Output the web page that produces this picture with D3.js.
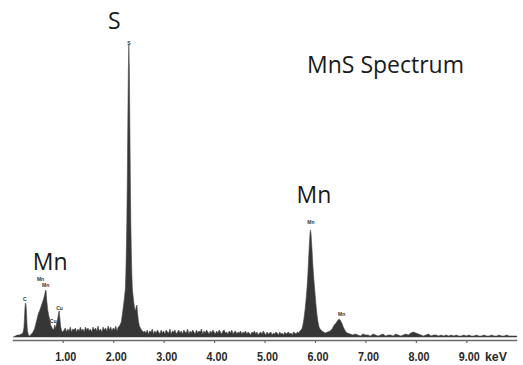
<!DOCTYPE html>
<html>
<head>
<meta charset="utf-8">
<script src="https://cdn.jsdelivr.net/npm/d3@7"></script>
<style>
  html, body { margin: 0; padding: 0; background: #ffffff; }
  svg { display: block; }
</style>
</head>
<body>
<svg id="chart" width="523" height="365"></svg>
<script>
// ---- Data ----
const energyKeV = [
  0.02, 0.06, 0.10, 0.14, 0.18,
  0.21, 0.23, 0.24, 0.25, 0.26, 0.27, 0.28, 0.29, 0.30, 0.32, 0.34, 0.36, 0.38, 0.40, 0.42,
  0.44, 0.46, 0.48, 0.50, 0.52, 0.54, 0.56, 0.58, 0.60, 0.62, 0.64, 0.66, 0.67, 0.68, 0.70, 0.72, 0.74, 0.76, 0.78, 0.80, 0.82, 0.84, 0.86,
  0.88, 0.90, 0.92, 0.93, 0.94, 0.96, 0.98, 1.00,
  1.025, 1.05, 1.075, 1.10, 1.125, 1.15, 1.175, 1.20, 1.225, 1.25, 1.275, 1.30, 1.325, 1.35, 1.375, 1.40, 1.425, 1.45, 1.475, 1.50,
  1.525, 1.55, 1.575, 1.60, 1.625, 1.65, 1.675, 1.70, 1.725, 1.75, 1.775, 1.80, 1.825, 1.85, 1.875, 1.90, 1.925, 1.95, 1.975, 2.00,
  2.025, 2.05, 2.075, 2.10, 2.125,
  2.16, 2.18, 2.20, 2.22, 2.24, 2.25, 2.26, 2.27, 2.28, 2.29, 2.30, 2.31, 2.32, 2.33, 2.34, 2.35, 2.36, 2.37, 2.38, 2.40, 2.42, 2.44, 2.46, 2.47, 2.48, 2.50, 2.52, 2.54, 2.56, 2.58, 2.60,
  2.625, 2.65, 2.675, 2.70, 2.725, 2.75, 2.775, 2.80, 2.825, 2.85, 2.875, 2.90, 2.925, 2.95, 2.975, 3.00,
  3.025, 3.05, 3.075, 3.10, 3.125, 3.15, 3.175, 3.20, 3.225, 3.25, 3.275, 3.30, 3.325, 3.35, 3.375, 3.40, 3.425, 3.45, 3.475, 3.50,
  3.525, 3.55, 3.575, 3.60, 3.625, 3.65, 3.675, 3.70, 3.725, 3.75, 3.775, 3.80, 3.825, 3.85, 3.875, 3.90, 3.925, 3.95, 3.975, 4.00,
  4.025, 4.05, 4.075, 4.10, 4.125, 4.15, 4.175, 4.20, 4.225, 4.25, 4.275, 4.30, 4.325, 4.35, 4.375, 4.40, 4.425, 4.45, 4.475, 4.50,
  4.525, 4.55, 4.575, 4.60, 4.625, 4.65, 4.675, 4.70, 4.725, 4.75, 4.775, 4.80, 4.825, 4.85, 4.875, 4.90, 4.925, 4.95, 4.975, 5.00,
  5.025, 5.05, 5.075, 5.10, 5.125, 5.15, 5.175, 5.20, 5.225, 5.25, 5.275, 5.30, 5.325, 5.35, 5.375, 5.40, 5.425, 5.45, 5.475, 5.50,
  5.525, 5.55, 5.575, 5.60, 5.625, 5.65, 5.675,
  5.70, 5.74, 5.76, 5.78, 5.80, 5.82, 5.84, 5.86, 5.88, 5.90, 5.91, 5.92, 5.94, 5.96, 5.98, 6.00, 6.02, 6.04, 6.06, 6.08, 6.10, 6.14, 6.20, 6.25, 6.30, 6.34,
  6.36, 6.38, 6.40, 6.42, 6.44, 6.46, 6.48, 6.50, 6.52, 6.54, 6.56, 6.58, 6.60, 6.64, 6.70,
  6.75, 6.80, 6.85, 6.90, 6.95, 7.00, 7.05, 7.10, 7.15, 7.20, 7.25, 7.30, 7.35, 7.40, 7.45, 7.50, 7.55, 7.60, 7.65, 7.70,
  7.75, 7.80, 7.85, 7.90, 7.95, 8.00, 8.05, 8.10, 8.15, 8.20, 8.25, 8.30, 8.35, 8.40, 8.45, 8.50, 8.55, 8.60, 8.65, 8.70,
  8.75, 8.80, 8.85, 8.90, 8.95, 9.00, 9.05, 9.10, 9.15, 9.20, 9.25, 9.30, 9.35, 9.40, 9.45, 9.50, 9.55, 9.60, 9.65, 9.70,
  9.75, 9.80, 9.85, 9.90, 9.95, 10.00
];
const counts = [
  0, 1, 2, 2, 3,
  4, 9, 18, 28, 34, 33, 26, 14, 6, 2, 1, 2, 3, 4, 6,
  8, 12, 16, 20, 24, 26, 29, 32, 35, 38, 42, 47, 46, 38, 28, 22, 18, 12, 10, 8, 7, 12, 9,
  14, 18, 25, 26, 20, 10, 6, 5,
  7, 9, 5, 8, 6, 10, 5, 8, 7, 9, 5, 8, 6, 10, 6, 8, 5, 10, 7, 9,
  6, 8, 5, 10, 7, 9, 6, 11, 6, 8, 5, 10, 7, 9, 6, 11, 7, 10, 6, 9,
  7, 11, 6, 10, 11,
  15, 22, 30, 38, 48, 62, 85, 115, 160, 215, 265, 293, 268, 212, 158, 112, 84, 62, 48, 38, 30, 26, 31, 32, 25, 16, 11, 9, 7, 6, 5,
  6, 4, 7, 3, 6, 5, 8, 3, 6, 4, 7, 5, 3, 7, 4, 6,
  3, 7, 5, 4, 8, 3, 6, 5, 7, 3, 5, 7, 4, 6, 3, 7, 5, 4, 8, 3,
  6, 4, 7, 5, 3, 7, 4, 6, 5, 8, 3, 6, 4, 7, 5, 3, 6, 4, 7, 5,
  3, 6, 4, 7, 5, 3, 6, 7, 4, 5, 3, 6, 4, 7, 3, 5, 6, 3, 5, 4,
  6, 3, 5, 4, 6, 3, 5, 4, 2, 5, 4, 6, 3, 5, 2, 4, 5, 3, 6, 4,
  2, 5, 3, 4, 5, 2, 4, 3, 5, 4, 2, 5, 3, 4, 2, 5, 3, 4, 5, 3,
  4, 2, 5, 4, 3, 5, 4,
  6, 8, 12, 18, 26, 36, 48, 64, 85, 103, 107, 104, 88, 70, 56, 44, 32, 22, 15, 10, 8, 6, 4, 5, 6, 8,
  10, 12, 13, 14, 16, 17, 18, 17, 15, 13, 10, 8, 6, 4, 3,
  2, 3, 2, 1, 3, 2, 2, 1, 3, 2, 1, 2, 3, 1, 2, 2, 1, 3, 2, 1,
  2, 3, 2, 4, 5, 4, 3, 2, 1, 2, 3, 1, 2, 2, 1, 2, 1, 2, 1, 2,
  1, 2, 1, 1, 2, 1, 2, 1, 1, 2, 1, 1, 2, 1, 1, 2, 1, 1, 2, 1,
  1, 2, 1, 1, 1, 1
];

// Small peak markers on the spectrum
const markerText = ["C", "Mn", "Mn", "Cu", "Cu", "S", "Mn", "Mn"];
const markerKeV = [0.25, 0.56, 0.66, 0.935, 0.81, 2.31, 5.92, 6.53];
const markerCounts = [36, 56, 50, 27, 14, 292, 113, 21];

// Large element annotations
const elementText = ["S", "Mn", "Mn"];
const elementKeV = [2.02, 0.75, 5.98];
const elementCounts = [308, 67, 134];

const tickValuesKeV = [1, 2, 3, 4, 5, 6, 7, 8, 9];
const unitLabel = "keV";
const titleText = "MnS Spectrum";

// ---- Drawing ----
const svg = d3.select("#chart");

const x = d3.scaleLinear().domain([0, 10]).range([12.3, 516.8]);
const y = d3.scaleLinear().domain([0, 300]).range([337, 37]);

const pts = energyKeV.map((e, i) => ({ e, c: counts[i] }));

const area = d3.area()
  .x(d => x(d.e))
  .y0(y(0))
  .y1(d => y(d.c))
  .curve(d3.curveLinear);

svg.append("path")
  .datum(pts)
  .attr("d", area)
  .attr("fill", "#363636")
  .attr("stroke", "#4a4a4a")
  .attr("stroke-width", 0.6);

// Axis
const axis = d3.axisBottom(x)
  .tickValues(tickValuesKeV)
  .tickFormat(d3.format(".2f"))
  .tickSize(3)
  .tickSizeOuter(0);

const gx = svg.append("g")
  .attr("transform", "translate(0,340)")
  .call(axis);

const labelFont = "'Liberation Sans Narrow', 'Liberation Sans', sans-serif";

gx.select(".domain").attr("stroke", "#6a6a6a").attr("stroke-width", 1.6);
gx.selectAll(".tick line").attr("stroke", "#6a6a6a").attr("stroke-width", 1.2);
gx.selectAll(".tick text")
  .attr("y", 20.5)
  .attr("dy", 0)
  .attr("dx", 2.5)
  .attr("fill", "#2a2a2a")
  .attr("textLength", 21)
  .attr("lengthAdjust", "spacingAndGlyphs")
  .style("font-family", labelFont)
  .style("font-weight", "bold")
  .style("font-size", "12.5px");

svg.append("text")
  .attr("x", 496)
  .attr("y", 360.8)
  .attr("text-anchor", "middle")
  .attr("fill", "#2a2a2a")
  .attr("textLength", 22)
  .attr("lengthAdjust", "spacingAndGlyphs")
  .style("font-family", labelFont)
  .style("font-weight", "bold")
  .style("font-size", "13px")
  .text(unitLabel);

// Small markers
svg.selectAll("text.marker")
  .data(markerText)
  .join("text")
  .attr("class", "marker")
  .attr("x", (d, i) => x(markerKeV[i]))
  .attr("y", (d, i) => y(markerCounts[i]))
  .attr("text-anchor", "middle")
  .attr("fill", "#333")
  .style("font-family", "'Liberation Sans', sans-serif")
  .style("font-weight", "bold")
  .style("font-size", "5px")
  .text(d => d);

// Large element labels
svg.selectAll("text.element")
  .data(elementText)
  .join("text")
  .attr("class", "element")
  .attr("x", (d, i) => x(elementKeV[i]))
  .attr("y", (d, i) => y(elementCounts[i]))
  .attr("text-anchor", "middle")
  .attr("fill", "#1a1a1a")
  .style("font-family", "'Open Sans', sans-serif")
  .style("font-size", "23px")
  .text(d => d);

svg.append("text")
  .attr("x", 307)
  .attr("y", 73.3)
  .attr("fill", "#1a1a1a")
  .style("font-family", "'Open Sans', sans-serif")
  .style("font-size", "23px")
  .text(titleText);
</script>
</body>
</html>
